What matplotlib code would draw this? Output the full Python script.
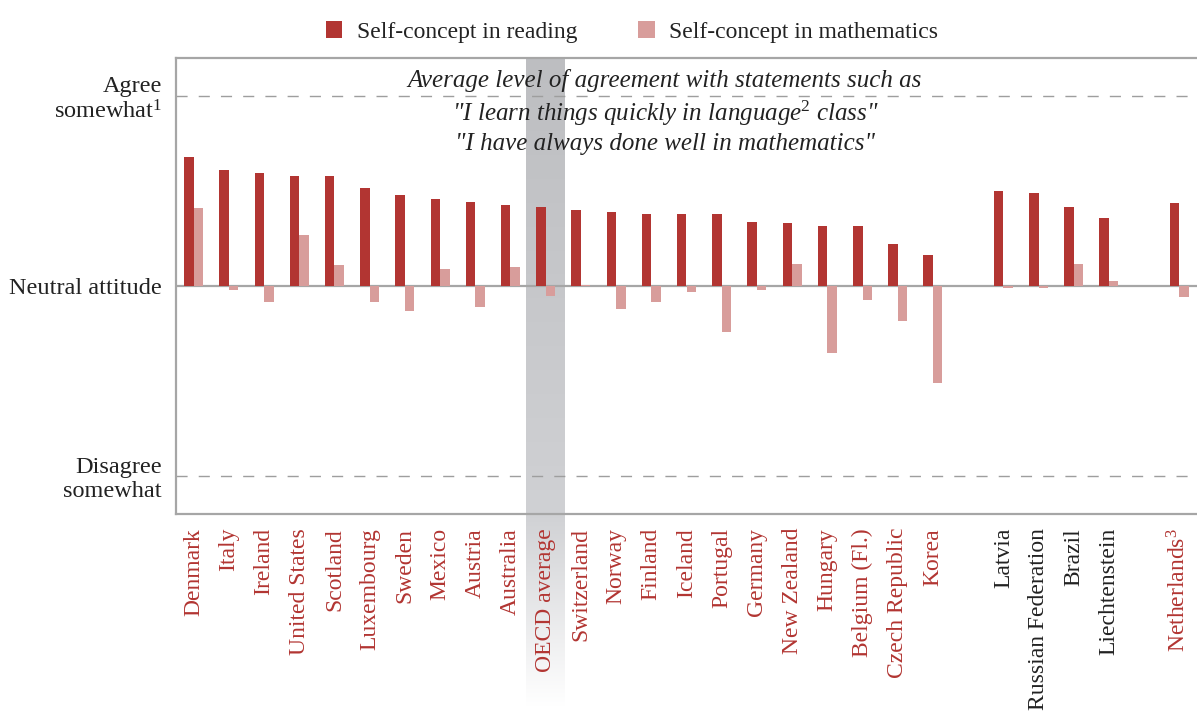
import numpy as np
import matplotlib.pyplot as plt

plt.rcParams['font.family'] = ['Liberation Serif', 'DejaVu Serif']
plt.rcParams['mathtext.fontset'] = 'custom'
plt.rcParams['mathtext.rm'] = 'Liberation Serif'
plt.rcParams['mathtext.it'] = 'Liberation Serif:italic'

# Data (0 = neutral attitude, +1 = agree somewhat, -1 = disagree somewhat)
countries = ['Denmark', 'Italy', 'Ireland', 'United States', 'Scotland', 'Luxembourg',
             'Sweden', 'Mexico', 'Austria', 'Australia', 'OECD average', 'Switzerland',
             'Norway', 'Finland', 'Iceland', 'Portugal', 'Germany', 'New Zealand',
             'Hungary', 'Belgium (Fl.)', 'Czech Republic', 'Korea',
             'Latvia', 'Russian Federation', 'Brazil', 'Liechtenstein',
             'Netherlands$^{3}$']
positions = [0, 1, 2, 3, 4, 5, 6, 7, 8, 9, 10, 11, 12, 13, 14, 15, 16, 17, 18, 19, 20, 21,
             23, 24, 25, 26, 28]
reading = [0.68, 0.61, 0.595, 0.58, 0.58, 0.515, 0.48, 0.46, 0.44, 0.425, 0.415, 0.40,
           0.39, 0.38, 0.38, 0.38, 0.335, 0.33, 0.315, 0.315, 0.22, 0.165,
           0.50, 0.49, 0.415, 0.36, 0.435]
maths = [0.41, -0.02, -0.085, 0.27, 0.11, -0.085, -0.13, 0.09, -0.11, 0.10, -0.05, 0.005,
         -0.12, -0.085, -0.03, -0.24, -0.02, 0.115, -0.355, -0.075, -0.185, -0.51,
         -0.01, -0.01, 0.115, 0.025, -0.06]
partner = ['Latvia', 'Russian Federation', 'Brazil', 'Liechtenstein']

red = '#B23532'
pink = '#D89D9B'
grey = '#A6A6A6'

fig = plt.figure(figsize=(11.97, 7.13), dpi=100)
ax = fig.add_axes([176 / 1197, 1 - 514 / 713, 1 - 176 / 1197, (514 - 58) / 713])
ax.set_xlim(-0.5, 28.5)
ax.set_ylim(-1.2, 1.2)
ax.patch.set_alpha(0)

# OECD average band, fading out below the axis
ybot = (286 - 707) / 190
n = 256
ys = np.linspace(0, 1, n)  # 0 top, 1 bottom
frac_axis = (514 - 58) / (707 - 58)
top_c = np.array([189, 190, 193]) / 255
mid_c = np.array([208, 209, 212]) / 255
white = np.array([1.0, 1.0, 1.0])
cols = np.zeros((n, 1, 3))
for i, t in enumerate(ys):
    if t < frac_axis:
        c = top_c + (mid_c - top_c) * (t / frac_axis)
    else:
        c = mid_c + (white - mid_c) * ((t - frac_axis) / (1 - frac_axis))
    cols[i, 0] = c
ax.imshow(cols, extent=(9.45, 10.55, ybot, 1.2), aspect='auto', clip_on=False,
          zorder=0, interpolation='bilinear')

w = 0.27
x = np.array(positions)
ax.axhline(0, color=grey, lw=1.6, zorder=2)
ax.bar(x - w / 2, reading, width=w, color=red, zorder=3, label='Self-concept in reading')
ax.bar(x + w / 2, maths, width=w, color=pink, zorder=3, label='Self-concept in mathematics')
for yv in (1, -1):
    ax.axhline(yv, color='#9E9E9E', lw=1.0, ls=(0, (8, 8)), zorder=2)

for s in ['left', 'top', 'bottom']:
    ax.spines[s].set_color(grey)
    ax.spines[s].set_linewidth(1.6)
ax.spines['right'].set_visible(False)

ax.set_yticks([1, 0, -1])
ax.set_yticklabels(['Agree\nsomewhat$^{1}$', 'Neutral attitude', 'Disagree\nsomewhat'],
                   fontsize=17.5, color='#222222', linespacing=1.15)
ax.set_xticks(positions)
ax.set_xticklabels(countries, rotation=90, fontsize=17)
for lab, c in zip(ax.get_xticklabels(), countries):
    lab.set_color('#222222' if c in partner else '#B23532')
ax.tick_params(axis='x', length=0, pad=10)
ax.tick_params(axis='y', length=0, pad=10)

ax.text(0.479, 0.975,
        'Average level of agreement with statements such as\n'
        '"I learn things quickly in language$^{2}$ class"\n'
        '"I have always done well in mathematics"',
        transform=ax.transAxes, ha='center', va='top', fontsize=18, style='italic',
        color='#222222', linespacing=1.3, zorder=5)

fig.legend(loc='upper center', bbox_to_anchor=(0.528, 1.0), ncol=2, frameon=False,
           fontsize=17, handlelength=0.7, handleheight=0.7, columnspacing=2.6,
           handletextpad=0.6, labelcolor='#222222')

fig.savefig('out.png', dpi=100)
